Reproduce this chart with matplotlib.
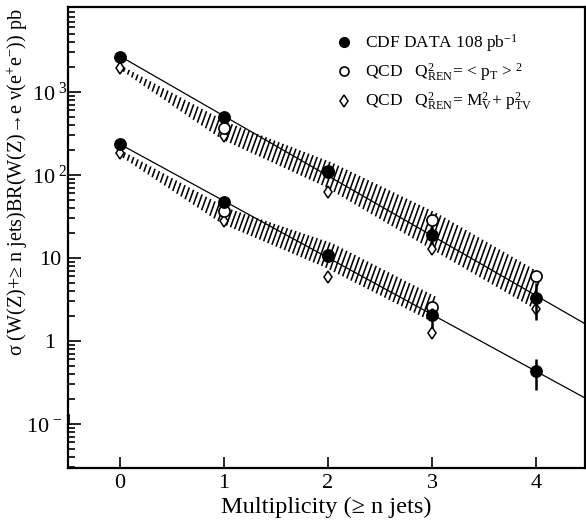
import numpy as np
import matplotlib
matplotlib.use('Agg')
import matplotlib.pyplot as plt
from matplotlib.lines import Line2D
from matplotlib.collections import LineCollection

plt.rcParams['font.family'] = ['Liberation Serif', 'DejaVu Serif']
plt.rcParams['mathtext.fontset'] = 'custom'
plt.rcParams['mathtext.rm'] = 'Liberation Serif'
plt.rcParams['mathtext.it'] = 'Liberation Serif'
plt.rcParams['mathtext.bf'] = 'Liberation Serif:bold'

nan = np.nan
n_jets = [0, 1, 2, 3, 4]

# W(->e nu) + >= n jets
w_data = [2600, 490, 108, 18.9, 3.3]
w_err_lo = [2600, 490, 108, 14.5, 1.8]
w_err_hi = [2600, 490, 108, 24.0, 5.0]
w_qcd_pt = [nan, 368, 112, 28.7, 6.0]
w_qcd_mv = [1950, 290, 62, 12.8, 2.4]
w_band_lo = [1880, 270, 73, 13.8, 2.6]
w_band_hi = [2080, 430, 140, 34.0, 6.4]

# Z(->e e) + >= n jets
z_data = [235, 47, 10.4, 2.05, 0.43]
z_err_lo = [235, 47, 10.4, 1.45, 0.26]
z_err_hi = [235, 47, 10.4, 2.5, 0.60]
z_qcd_pt = [nan, 37, 10.8, 2.55, nan]
z_qcd_mv = [184, 28, 5.9, 1.25, nan]
z_band_lo = [172, 26, 7.8, 1.8]
z_band_hi = [198, 40, 15.0, 3.4]

y_ticks = [0.1, 1, 10, 100, 1000]
y_tick_labels = [r'$10^{\,-1}$', '1', '10', r'$10^{\,\,2}$', r'$10^{\,\,3}$']

fig = plt.figure(figsize=(5.86, 5.20), dpi=100)
ax = fig.add_axes([68/586, 52/520, 517/586, 461/520])
ax.set_yscale('log')
ax.set_xlim(-0.5, 4.47)
ax.set_ylim(10**-1.53, 10**4.02)


def draw_band(xv, lo, hi, step_px=4.2, tilt=0.36):
    xv = np.asarray(xv, float)
    px_unit = ax.transData.transform((1, 1))[0] - ax.transData.transform((0, 1))[0]
    xs = np.arange(xv[0], xv[-1] + 1e-9, step_px / px_unit)
    llo = 10 ** np.interp(xs, xv, np.log10(lo))
    lhi = 10 ** np.interp(xs, xv, np.log10(hi))
    plo = ax.transData.transform(np.column_stack([xs, llo]))
    phi = ax.transData.transform(np.column_stack([xs, lhi]))
    dy = phi[:, 1] - plo[:, 1]
    b = np.column_stack([plo[:, 0] - tilt * dy / 2, plo[:, 1]])
    t = np.column_stack([phi[:, 0] + tilt * dy / 2, phi[:, 1]])
    inv = ax.transData.inverted()
    bd = inv.transform(b)
    td = inv.transform(t)
    segs = [[tuple(p), tuple(q)] for p, q in zip(bd, td)]
    ax.add_collection(LineCollection(segs, colors='black', linewidths=1.15,
                                     capstyle='butt', zorder=1))


draw_band(n_jets, w_band_lo, w_band_hi)
draw_band(n_jets[:len(z_band_lo)], z_band_lo, z_band_hi)

# exponential fits to the data
xfit = np.linspace(0, 4.47, 50)
for d in (w_data, z_data):
    c = np.polyfit(n_jets, np.log10(d), 1)
    ax.plot(xfit, 10 ** np.polyval(c, xfit), color='black', lw=0.9, zorder=2)

for mv, pt in ((w_qcd_mv, w_qcd_pt), (z_qcd_mv, z_qcd_pt)):
    ax.plot(n_jets, mv, linestyle='none', marker='d', ms=6.5, mfc='white',
            mec='black', mew=1.1, zorder=3)
    ax.plot(n_jets, pt, linestyle='none', marker='o', ms=8, mfc='white',
            mec='black', mew=1.2, zorder=4)

for d, lo, hi in ((w_data, w_err_lo, w_err_hi), (z_data, z_err_lo, z_err_hi)):
    d = np.asarray(d); lo = np.asarray(lo); hi = np.asarray(hi)
    ax.errorbar(n_jets, d, yerr=[d - lo, hi - d], fmt='o', color='black',
                ms=8.2, elinewidth=1.8, capsize=0, zorder=5)

ax.set_xticks(n_jets)
ax.set_xticklabels([str(v) for v in n_jets])
ax.set_yticks(y_ticks)
ax.set_yticklabels(y_tick_labels)
for lab in ax.get_yticklabels():
    lab.set_horizontalalignment('center')

ax.tick_params(axis='both', which='both', direction='in', labelsize=16,
               width=1.2, top=False, right=False)
ax.tick_params(axis='y', which='major', length=9, pad=13)
ax.tick_params(axis='y', which='minor', length=5)
ax.tick_params(axis='x', which='major', length=8, pad=4)
for s in ax.spines.values():
    s.set_linewidth(1.6)

ax.set_xlabel('Multiplicity (≥ n jets)', fontsize=17.5)
ax.xaxis.set_label_coords(0.5, -0.062)
ax.set_ylabel('σ (W(Z)+≥ n jets)BR(W(Z)→e ν(e$^{+}$e$^{-}$)) pb', fontsize=14.5)
ax.yaxis.set_label_coords(-0.074, 0.62)

handles = [
    Line2D([], [], linestyle='none', marker='o', ms=7, color='black'),
    Line2D([], [], linestyle='none', marker='o', ms=6.5, mfc='white', mec='black', mew=1.2),
    Line2D([], [], linestyle='none', marker='d', ms=6, mfc='white', mec='black', mew=1.1),
]
labels = [
    'CDF DATA 108 pb$^{-1}$',
    r'QCD   Q$^{2}_{\rm REN}$= < p$_{\rm T}$ > $^{2}$',
    r'QCD   Q$^{2}_{\rm REN}$= M$^{2}_{\rm V}$+ p$^{2}_{\rm TV}$',
]
ax.legend(handles, labels, loc='upper left', bbox_to_anchor=(0.52, 0.945),
          frameon=False, fontsize=12.5, handlelength=0.8, handletextpad=0.8,
          labelspacing=0.42, borderpad=0, borderaxespad=0)

fig.savefig('out.png', dpi=100)
